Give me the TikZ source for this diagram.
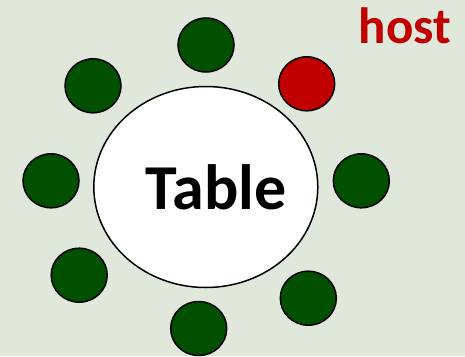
\documentclass[tikz,border=0pt]{standalone}
\usepackage{fontspec}
\usetikzlibrary{shapes.geometric}
\setmainfont{Carlito}
\definecolor{bgcol}{HTML}{DFE8DB}
\definecolor{seatgreen}{HTML}{005000}
\definecolor{hostred}{HTML}{C00000}
\begin{document}
\begin{tikzpicture}[x=1pt,y=-1pt,
  seat/.style={ellipse, draw=black, line width=1.5pt, fill=seatgreen, minimum width=56pt, minimum height=54pt, inner sep=0pt},
  hostseat/.style={seat, fill=hostred},
  tablebox/.style={ellipse, draw=black, line width=1.5pt, fill=white, minimum width=224pt, minimum height=201pt, inner sep=0pt}]
\fill[bgcol] (0,0) rectangle (465,356);
\useasboundingbox (0,0) rectangle (465,356);
\node[tablebox] (table) at (205.8,187) {};
\node[font=\bfseries\fontsize{64}{64}\selectfont, anchor=base] (tlabel) at (216,209.3) {Table};
\node[seat] (s1) at (206,45) {};
\node[seat] (s2) at (93,85.8) {};
\node[hostseat] (s3) at (306.7,83.8) {};
\node[seat] (s4) at (51,180.8) {};
\node[seat] (s5) at (361.3,180.8) {};
\node[seat] (s6) at (79.2,275.2) {};
\node[seat] (s7) at (308.3,298.2) {};
\node[seat] (s8) at (198.7,328.5) {};
\node[font=\bfseries\fontsize{51}{51}\selectfont, text=hostred, anchor=base] (host) at (405,43.3) {host};
\end{tikzpicture}
\end{document}
